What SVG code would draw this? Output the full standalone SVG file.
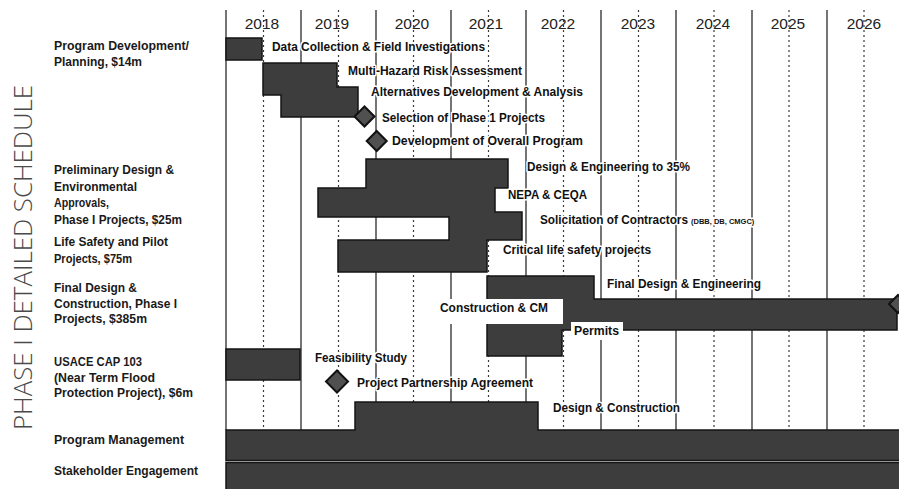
<svg xmlns="http://www.w3.org/2000/svg" width="899" height="489" viewBox="0 0 899 489">
<style>
.bg{fill:#ffffff}
.yr{stroke:#2a2a2a;stroke-width:1.3;fill:none}
.mid{stroke:#3a3a3a;stroke-width:1.2;stroke-dasharray:2 3;fill:none}
.bar{fill:#3d3d3d;stroke:#141414;stroke-width:1.5}
.ms{fill:#505050;stroke:#111;stroke-width:2}
.box{fill:#ffffff}
.year{font-family:"Liberation Sans",Arial,sans-serif;font-size:15.5px;fill:#222;text-anchor:middle}
.cat{font-family:"Liberation Sans",Arial,sans-serif;font-weight:bold;font-size:12px;fill:#1a1a1a}
.lbl{font-family:"Liberation Sans",Arial,sans-serif;font-weight:bold;font-size:12px;fill:#111;paint-order:stroke;stroke:#fff;stroke-width:3px;stroke-linejoin:round}
.sm{font-size:7.5px}
.title{font-family:"Open Sans","Liberation Sans",sans-serif;font-weight:300;font-size:26px;fill:#4a4a4a;text-anchor:middle}
</style>
<rect class="bg" x="0" y="0" width="899" height="489"/>

<g id="title">
<text class="title" transform="translate(32,257.5) rotate(-90)" textLength="345" lengthAdjust="spacingAndGlyphs">PHASE I DETAILED SCHEDULE</text>
</g>

<g id="grid">
<line class="yr" x1="226" y1="10" x2="226" y2="430"/>
<line class="yr" x1="301" y1="10" x2="301" y2="430"/>
<line class="yr" x1="376" y1="10" x2="376" y2="430"/>
<line class="yr" x1="451" y1="10" x2="451" y2="430"/>
<line class="yr" x1="526" y1="10" x2="526" y2="430"/>
<line class="yr" x1="601" y1="10" x2="601" y2="430"/>
<line class="yr" x1="676" y1="10" x2="676" y2="430"/>
<line class="yr" x1="752" y1="10" x2="752" y2="430"/>
<line class="yr" x1="827" y1="10" x2="827" y2="430"/>
<line class="mid" x1="263.5" y1="10" x2="263.5" y2="430"/>
<line class="mid" x1="338.5" y1="10" x2="338.5" y2="430"/>
<line class="mid" x1="413.5" y1="10" x2="413.5" y2="430"/>
<line class="mid" x1="488.5" y1="10" x2="488.5" y2="430"/>
<line class="mid" x1="563.5" y1="10" x2="563.5" y2="430"/>
<line class="mid" x1="638.5" y1="10" x2="638.5" y2="430"/>
<line class="mid" x1="714" y1="10" x2="714" y2="430"/>
<line class="mid" x1="789" y1="10" x2="789" y2="430"/>
<line class="mid" x1="864" y1="10" x2="864" y2="430"/>
</g>

<g id="years">
<text class="year" x="262" y="29">2018</text>
<text class="year" x="332" y="29">2019</text>
<text class="year" x="412" y="29">2020</text>
<text class="year" x="486" y="29">2021</text>
<text class="year" x="558" y="29">2022</text>
<text class="year" x="638" y="29">2023</text>
<text class="year" x="713" y="29">2024</text>
<text class="year" x="788" y="29">2025</text>
<text class="year" x="864" y="29">2026</text>
</g>

<g id="categories">
<text class="cat" x="54" y="50" textLength="135" lengthAdjust="spacingAndGlyphs">Program Development/</text>
<text class="cat" x="54" y="66" textLength="88" lengthAdjust="spacingAndGlyphs">Planning, $14m</text>
<text class="cat" x="54" y="174" textLength="120" lengthAdjust="spacingAndGlyphs">Preliminary Design &amp;</text>
<text class="cat" x="54" y="190.5" textLength="83" lengthAdjust="spacingAndGlyphs">Environmental</text>
<text class="cat" x="54" y="207" textLength="55" lengthAdjust="spacingAndGlyphs">Approvals,</text>
<text class="cat" x="54" y="223.5" textLength="128" lengthAdjust="spacingAndGlyphs">Phase I Projects, $25m</text>
<text class="cat" x="54" y="246" textLength="114" lengthAdjust="spacingAndGlyphs">Life Safety and Pilot</text>
<text class="cat" x="54" y="262.5" textLength="78" lengthAdjust="spacingAndGlyphs">Projects, $75m</text>
<text class="cat" x="54" y="292" textLength="83" lengthAdjust="spacingAndGlyphs">Final Design &amp;</text>
<text class="cat" x="54" y="308" textLength="123" lengthAdjust="spacingAndGlyphs">Construction, Phase I</text>
<text class="cat" x="54" y="323" textLength="93" lengthAdjust="spacingAndGlyphs">Projects, $385m</text>
<text class="cat" x="54" y="366" textLength="88" lengthAdjust="spacingAndGlyphs">USACE CAP 103</text>
<text class="cat" x="54" y="381.5" textLength="101" lengthAdjust="spacingAndGlyphs">(Near Term Flood</text>
<text class="cat" x="54" y="397" textLength="139" lengthAdjust="spacingAndGlyphs">Protection Project), $6m</text>
<text class="cat" x="54" y="444" textLength="130" lengthAdjust="spacingAndGlyphs">Program Management</text>
<text class="cat" x="54" y="474.5" textLength="144" lengthAdjust="spacingAndGlyphs">Stakeholder Engagement</text>
</g>

<g id="planning">
<rect class="bar" x="226" y="38" width="36" height="22"/>
<path class="bar" d="M263,63 H337 V87 H358 V117 H281 V95 H263 Z"/>
<path class="ms" d="M364.5,106.5 L374.5,116.5 L364.5,126.5 L354.5,116.5 Z"/>
<path class="ms" d="M376.7,131 L386.7,141 L376.7,151 L366.7,141 Z"/>
<text class="lbl" x="272" y="51" textLength="213" lengthAdjust="spacingAndGlyphs">Data Collection &amp; Field Investigations</text>
<text class="lbl" x="348" y="74.5" textLength="174" lengthAdjust="spacingAndGlyphs">Multi-Hazard Risk Assessment</text>
<text class="lbl" x="371" y="96" textLength="212" lengthAdjust="spacingAndGlyphs">Alternatives Development &amp; Analysis</text>
<text class="lbl" x="382" y="122" textLength="163" lengthAdjust="spacingAndGlyphs">Selection of Phase 1 Projects</text>
<text class="lbl" x="392" y="144.5" textLength="191" lengthAdjust="spacingAndGlyphs">Development of Overall Program</text>
</g>

<g id="preliminary">
<path class="bar" d="M366,159 H508 V188 H495 V212 H522 V240 H487 V272 H338 V240 H449 V217 H318 V188 H366 Z"/>
<text class="lbl" x="527" y="171" textLength="163" lengthAdjust="spacingAndGlyphs">Design &amp; Engineering to 35%</text>
<text class="lbl" x="508" y="199" textLength="79" lengthAdjust="spacingAndGlyphs">NEPA &amp; CEQA</text>
<text class="lbl" x="540" y="224"><tspan textLength="148" lengthAdjust="spacingAndGlyphs">Solicitation of Contractors</tspan><tspan class="sm" dx="3">(DBB, DB, CMGC)</tspan></text>
<text class="lbl" x="503" y="254" textLength="148" lengthAdjust="spacingAndGlyphs">Critical life safety projects</text>
</g>

<g id="final-design">
<path class="bar" d="M487,276 H594 V299 H897 V330 H562 V356 H487 Z"/>
<path class="ms" d="M898,295 L907,304 L898,313 L889,304 Z"/>
<rect class="box" x="438" y="299" width="125" height="25"/>
<rect class="box" x="571" y="322" width="52" height="18"/>
<text class="lbl" x="607" y="287.5" textLength="154" lengthAdjust="spacingAndGlyphs">Final Design &amp; Engineering</text>
<text class="lbl" x="440" y="311.5" textLength="108" lengthAdjust="spacingAndGlyphs">Construction &amp; CM</text>
<text class="lbl" x="574" y="335" textLength="45" lengthAdjust="spacingAndGlyphs">Permits</text>
</g>

<g id="usace">
<rect class="bar" x="226" y="349" width="74" height="31"/>
<path class="ms" d="M337,370.5 L348,381.5 L337,392.5 L326,381.5 Z"/>
<text class="lbl" x="315" y="362" textLength="92" lengthAdjust="spacingAndGlyphs">Feasibility Study</text>
<text class="lbl" x="357" y="387" textLength="176" lengthAdjust="spacingAndGlyphs">Project Partnership Agreement</text>
<text class="lbl" x="553" y="412" textLength="127" lengthAdjust="spacingAndGlyphs">Design &amp; Construction</text>
</g>

<g id="program-management">
<path class="bar" d="M355,402 H538 V430 H900 V460.5 H226 V430 H355 Z"/>
</g>

<g id="stakeholder-engagement">
<rect class="bar" x="226" y="462.5" width="674" height="28"/>
</g>
</svg>
